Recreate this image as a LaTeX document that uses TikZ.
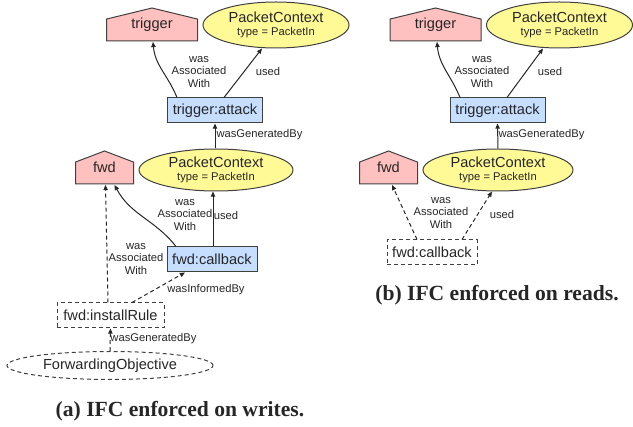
\documentclass[tikz,border=0pt]{standalone}
\usepackage{fontspec}
\setmainfont{Liberation Sans}
\newfontfamily\capfont{Liberation Serif}
\usepackage{xcolor}
\usepackage{tikz}
\usetikzlibrary{positioning,arrows.meta,shapes.geometric,calc}

\definecolor{agentpink}{RGB}{255,192,192}
\definecolor{activityblue}{RGB}{198,222,255}
\definecolor{entityyellow}{RGB}{255,250,150}

\begin{document}
\begin{tikzpicture}[
    x=0.5pt, y=-0.5pt,
    every node/.style={text=black!85},
    agent/.style={rectangle, inner sep=0pt, minimum width=#1, minimum height=17pt, font=\fontsize{7.3}{8}\selectfont,
      path picture={\filldraw[draw=black!75, line width=0.5pt, fill=agentpink]
        ([shift={(0.25pt,0.25pt)}]path picture bounding box.south west) --
        ([shift={(-0.25pt,0.25pt)}]path picture bounding box.south east) --
        ($(path picture bounding box.south east)!0.66!(path picture bounding box.north east)+(-0.25pt,0)$) --
        ([shift={(0,-0.25pt)}]path picture bounding box.north) --
        ($(path picture bounding box.south west)!0.66!(path picture bounding box.north west)+(0.25pt,0)$) -- cycle;}},
    entity/.style={ellipse, draw=black!75, line width=0.5pt, fill=entityyellow, inner sep=0pt, minimum width=#1, minimum height=21pt, align=center, font=\fontsize{7.3}{6.6}\selectfont},
    activity/.style={rectangle, draw=black!75, line width=0.5pt, fill=activityblue, inner sep=0pt, minimum width=#1, minimum height=12.5pt, font=\fontsize{7.3}{8}\selectfont},
    pending/.style={fill=none, dash pattern=on 2pt off 1.5pt},
    lbl/.style={inner sep=0pt, align=center, font=\fontsize{5.6}{6.3}\selectfont},
    arrow/.style={-{Triangle[length=2.6pt, width=2.2pt]}, line width=0.5pt, draw=black!85},
    weak/.style={arrow, dash pattern=on 2pt off 1.5pt},
    caption/.style={font=\capfont\bfseries\fontsize{10.8}{12}\selectfont},
]
\useasboundingbox (0,0) rectangle (633,427);

\node[agent=46pt] (trigL) at (152,24.5) {trigger};
\node[entity=73pt, minimum height=23pt] (pcTopL) at (276,25) {PacketContext\\{\fontsize{5.6}{6}\selectfont type = PacketIn}};
\node[activity=47.5pt] (attackL) at (215,110.5) {trigger:attack};
\node[agent=29.5pt] (fwdL) at (104.5,167.5) {fwd};
\node[entity=77pt] (pcLowL) at (216,170) {PacketContext\\{\fontsize{5.6}{6}\selectfont type = PacketIn}};
\node[activity=45pt] (callbackL) at (212,259.5) {fwd:callback};
\node[activity=53.5pt, pending] (installL) at (110.5,315.5) {fwd:installRule};
\node[entity=103pt, minimum height=14pt, pending] (objL) at (110,365.5) {ForwardingObjective};
\node[caption] (capL) at (180,411) {(a) IFC enforced on writes.};

\draw[arrow] ([shift={(-38,0)}]attackL.north) to[out=112, in=-85] ([shift={(1,0)}]trigL.south)
    node[lbl] at (199,72) {was\\Associated\\With};
\draw[arrow] ([shift={(9,0)}]attackL.north) -- ([shift={(-14,0)}]pcTopL.south)
    node[lbl] at (268,72) {used};
\draw[arrow] ([shift={(-1,0)}]pcLowL.north) -- (attackL.south)
    node[lbl, anchor=west] at (216,135) {wasGeneratedBy};
\draw[arrow] ([shift={(-36,0)}]callbackL.north) to[out=128, in=-62] ([shift={(10,0)}]fwdL.south)
    node[lbl] at (185,215) {was\\Associated\\With};
\draw[arrow] ([shift={(1,0)}]callbackL.north) -- ([shift={(-3,0)}]pcLowL.south)
    node[lbl] at (226,215) {used};
\draw[weak] ([shift={(-2.5,0)}]installL.north) -- ([shift={(1,0)}]fwdL.south)
    node[lbl] at (136,259) {was\\Associated\\With};
\draw[weak] ([shift={(21.5,0)}]installL.north) -- ([shift={(-27,0)}]callbackL.south)
    node[lbl] at (206,290) {wasInformedBy};
\draw[weak] (objL.north) -- (installL.south)
    node[lbl, anchor=west] at (110,339) {wasGeneratedBy};

\node[agent=46pt] (trigR) at (435.5,24.5) {trigger};
\node[entity=73pt, minimum height=23pt] (pcTopR) at (559.5,25) {PacketContext\\{\fontsize{5.6}{6}\selectfont type = PacketIn}};
\node[activity=47.5pt] (attackR) at (497.5,110.5) {trigger:attack};
\node[agent=29.5pt] (fwdR) at (388.5,167.5) {fwd};
\node[entity=75pt] (pcLowR) at (498,170) {PacketContext\\{\fontsize{5.6}{6}\selectfont type = PacketIn}};
\node[activity=45pt, pending] (callbackR) at (432,252.5) {fwd:callback};
\node[caption] (capR) at (497,295) {(b) IFC enforced on reads.};

\draw[arrow] ([shift={(-37.5,0)}]attackR.north) to[out=112, in=-85] ([shift={(1.5,0)}]trigR.south)
    node[lbl] at (482,72) {was\\Associated\\With};
\draw[arrow] ([shift={(9.5,0)}]attackR.north) -- ([shift={(-16.5,0)}]pcTopR.south)
    node[lbl] at (550,72) {used};
\draw[arrow] (pcLowR.north) -- (attackR.south)
    node[lbl, anchor=west] at (498,135) {wasGeneratedBy};
\draw[weak] ([shift={(-15,0)}]callbackR.north) -- ([shift={(3.5,0)}]fwdR.south)
    node[lbl] at (441,213) {was\\Associated\\With};
\draw[weak] ([shift={(30,0)}]callbackR.north) -- ([shift={(-6,0)}]pcLowR.south)
    node[lbl] at (502,214) {used};
\end{tikzpicture}
\end{document}
